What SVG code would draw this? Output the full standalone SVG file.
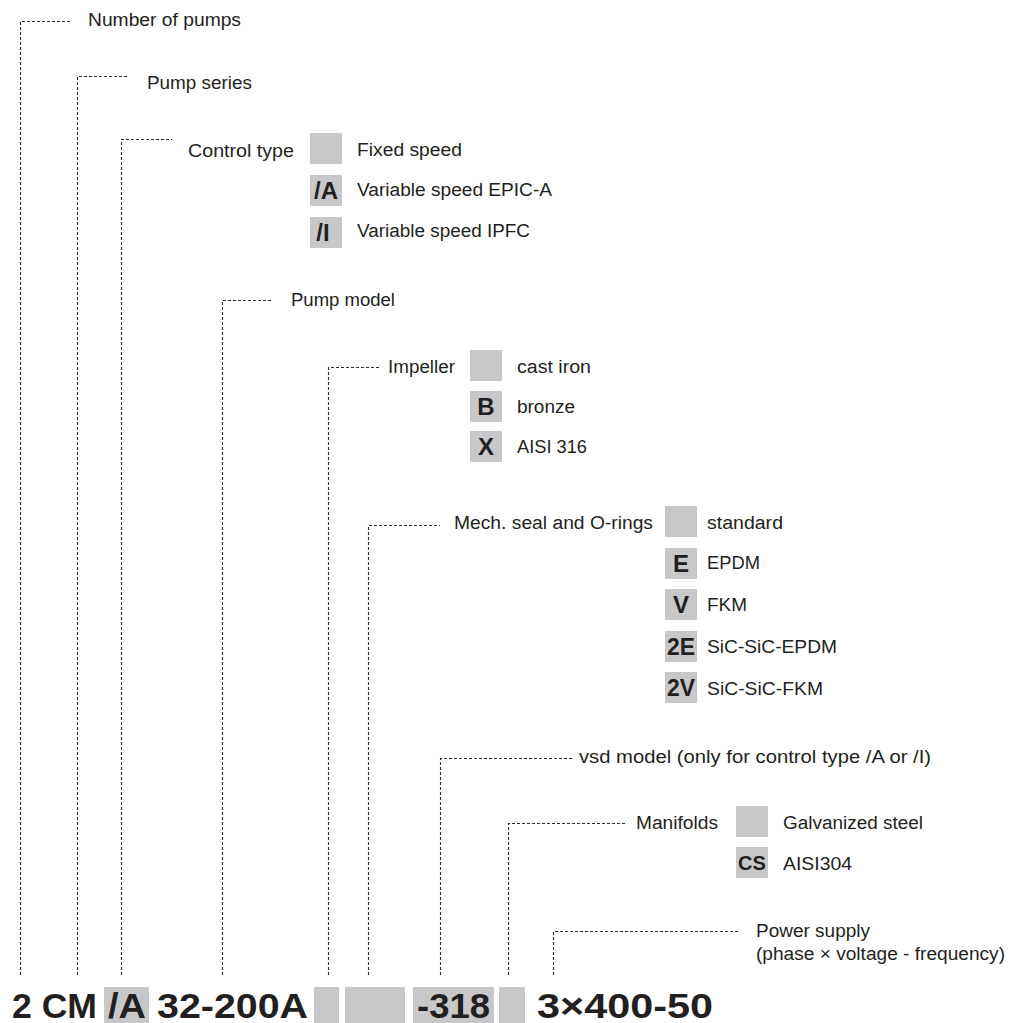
<svg xmlns="http://www.w3.org/2000/svg" width="1012" height="1023" viewBox="0 0 1012 1023">
<style>
.t{font-family:"Liberation Sans",Arial,sans-serif;font-size:18px;fill:#231f20}
.b{font-family:"Liberation Sans",Arial,sans-serif;font-weight:bold;font-size:24px;fill:#231f20;text-anchor:middle}
.big{font-family:"Liberation Sans",Arial,sans-serif;font-weight:bold;font-size:35px;fill:#231f20}
.box{fill:#c8c8ca}
.c{fill:none;stroke:#2a2a2a;stroke-width:1.1;stroke-dasharray:3 2}
</style>
<rect width="1012" height="1023" fill="#ffffff"/>
<g id="connectors">
<path class="c" d="M20.5,975 V21.5 H72"/>
<path class="c" d="M77.5,975 V76.5 H129"/>
<path class="c" d="M121.5,975 V139.5 H172"/>
<path class="c" d="M222.5,975 V300.5 H273"/>
<path class="c" d="M328.5,975 V367.5 H380"/>
<path class="c" d="M368.5,975 V525.5 H440"/>
<path class="c" d="M440.5,975 V758.5 H573"/>
<path class="c" d="M508.5,975 V823.5 H627"/>
<path class="c" d="M553.5,975 V931.5 H738"/>
</g>
<g id="n-pumps">
<text class="t" x="88" y="26" textLength="153" lengthAdjust="spacingAndGlyphs">Number of pumps</text>
</g>
<g id="n-series">
<text class="t" x="147" y="89" textLength="105" lengthAdjust="spacingAndGlyphs">Pump series</text>
</g>
<g id="n-control">
<text class="t" x="188" y="157" textLength="106" lengthAdjust="spacingAndGlyphs">Control type</text>
<rect class="box" x="310" y="133" width="32" height="31"/>
<text class="t" x="357" y="156" textLength="105" lengthAdjust="spacingAndGlyphs">Fixed speed</text>
<rect class="box" x="310" y="175" width="32" height="31"/>
<text class="b" x="326" y="199">/A</text>
<text class="t" x="357" y="196" textLength="195" lengthAdjust="spacingAndGlyphs">Variable speed EPIC-A</text>
<rect class="box" x="310" y="217" width="32" height="31"/>
<text class="b" x="323" y="241">/I</text>
<text class="t" x="357" y="237" textLength="173" lengthAdjust="spacingAndGlyphs">Variable speed IPFC</text>
</g>
<g id="n-model">
<text class="t" x="291" y="306" textLength="104" lengthAdjust="spacingAndGlyphs">Pump model</text>
</g>
<g id="n-impeller">
<text class="t" x="388" y="373" textLength="67" lengthAdjust="spacingAndGlyphs">Impeller</text>
<rect class="box" x="470" y="350" width="32" height="31"/>
<text class="t" x="517" y="373" textLength="74" lengthAdjust="spacingAndGlyphs">cast iron</text>
<rect class="box" x="470" y="391" width="32" height="31"/>
<text class="b" x="486" y="415">B</text>
<text class="t" x="517" y="413" textLength="58" lengthAdjust="spacingAndGlyphs">bronze</text>
<rect class="box" x="470" y="431" width="32" height="31"/>
<text class="b" x="486" y="455">X</text>
<text class="t" x="517" y="453" textLength="70" lengthAdjust="spacingAndGlyphs">AISI 316</text>
</g>
<g id="n-seal">
<text class="t" x="454" y="529" textLength="199" lengthAdjust="spacingAndGlyphs">Mech. seal and O-rings</text>
<rect class="box" x="665" y="506" width="32" height="31"/>
<text class="t" x="707" y="529" textLength="76" lengthAdjust="spacingAndGlyphs">standard</text>
<rect class="box" x="665" y="548" width="32" height="31"/>
<text class="b" x="681" y="572">E</text>
<text class="t" x="707" y="569" textLength="53" lengthAdjust="spacingAndGlyphs">EPDM</text>
<rect class="box" x="665" y="589" width="32" height="31"/>
<text class="b" x="681" y="613">V</text>
<text class="t" x="707" y="611" textLength="40" lengthAdjust="spacingAndGlyphs">FKM</text>
<rect class="box" x="665" y="631" width="32" height="31"/>
<text class="b" x="681" y="655" textLength="28" lengthAdjust="spacingAndGlyphs">2E</text>
<text class="t" x="707" y="653" textLength="130" lengthAdjust="spacingAndGlyphs">SiC-SiC-EPDM</text>
<rect class="box" x="665" y="672" width="32" height="31"/>
<text class="b" x="681" y="696" textLength="28" lengthAdjust="spacingAndGlyphs">2V</text>
<text class="t" x="707" y="695" textLength="116" lengthAdjust="spacingAndGlyphs">SiC-SiC-FKM</text>
</g>
<g id="n-vsd">
<text class="t" x="579" y="763" textLength="352" lengthAdjust="spacingAndGlyphs">vsd model (only for control type /A or /I)</text>
</g>
<g id="n-manifolds">
<text class="t" x="636" y="829" textLength="82" lengthAdjust="spacingAndGlyphs">Manifolds</text>
<rect class="box" x="736" y="806" width="32" height="31"/>
<text class="t" x="783" y="829" textLength="140" lengthAdjust="spacingAndGlyphs">Galvanized steel</text>
<rect class="box" x="736" y="847" width="32" height="31"/>
<text class="b" x="752" y="870" style="font-size:20px">CS</text>
<text class="t" x="783" y="870" textLength="69" lengthAdjust="spacingAndGlyphs">AISI304</text>
</g>
<g id="n-power">
<text class="t" x="756" y="937" textLength="114" lengthAdjust="spacingAndGlyphs">Power supply</text>
<text class="t" x="756" y="960" textLength="249" lengthAdjust="spacingAndGlyphs">(phase × voltage - frequency)</text>
</g>
<g id="code">
<rect class="box" x="104" y="987" width="45" height="36"/>
<rect class="box" x="314" y="987" width="25" height="36"/>
<rect class="box" x="345" y="987" width="60" height="36"/>
<rect class="box" x="413" y="987" width="81" height="36"/>
<rect class="box" x="499" y="987" width="26" height="36"/>
<text class="big" x="12" y="1018" textLength="85" lengthAdjust="spacingAndGlyphs">2 CM</text>
<text class="big" x="108" y="1018" textLength="38" lengthAdjust="spacingAndGlyphs">/A</text>
<text class="big" x="157" y="1018" textLength="151" lengthAdjust="spacingAndGlyphs">32-200A</text>
<text class="big" x="417" y="1018" textLength="73" lengthAdjust="spacingAndGlyphs">-318</text>
<text class="big" x="537" y="1018" textLength="176" lengthAdjust="spacingAndGlyphs">3×400-50</text>
</g>
</svg>
